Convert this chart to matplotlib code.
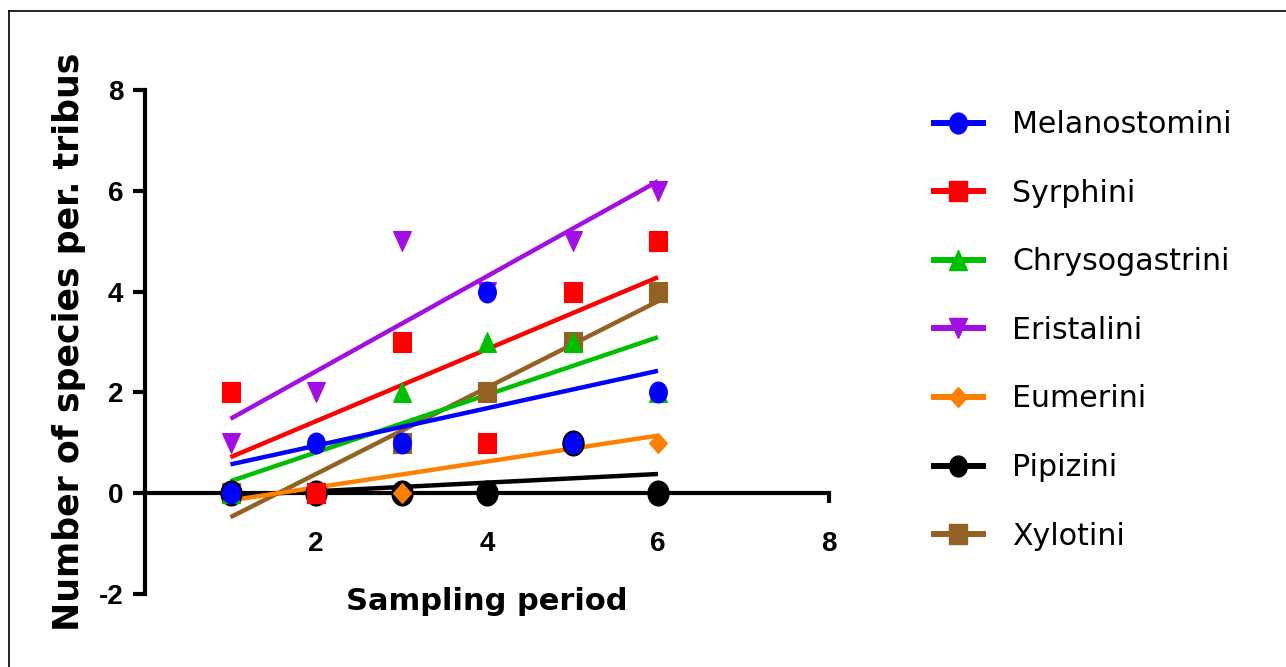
import numpy as np
import matplotlib
matplotlib.use("Agg")
import matplotlib.pyplot as plt
from matplotlib.lines import Line2D
from matplotlib.markers import MarkerStyle
from matplotlib.transforms import Affine2D

# sampling periods and species counts per tribus
periods = [1, 2, 3, 4, 5, 6]
melanostomini = [0, 1, 1, 4, 1, 2]
syrphini = [2, 0, 3, 1, 4, 5]
chrysogastrini = [0, 0, 2, 3, 3, 2]
eristalini = [1, 2, 5, 4, 5, 6]
eumerini = [0, 0, 0, 1, 1, 1]
pipizini = [0, 0, 0, 0, 1, 0]
xylotini = [0, 0, 1, 2, 3, 4]

tribus_names = ["Melanostomini", "Syrphini", "Chrysogastrini", "Eristalini",
                "Eumerini", "Pipizini", "Xylotini"]
tribus_values = [melanostomini, syrphini, chrysogastrini, eristalini,
                 eumerini, pipizini, xylotini]
colors = ["#0000FF", "#FF0000", "#00BE00", "#A30FE3", "#FF8000", "#000000", "#936121"]
markers = ["o", "s", "^", "v", "D", "o", "s"]
msizes = [15, 15, 15, 15, 10.5, 18, 15]

x_ticks = [2, 4, 6, 8]
y_ticks = [-2, 0, 2, 4, 6, 8]

tick_font = ["Liberation Sans Narrow", "Liberation Sans", "DejaVu Sans"]
plt.rcParams["axes.unicode_minus"] = False

fig = plt.figure(figsize=(12.86, 6.67), dpi=100)
ax = fig.add_axes([145 / 1286, 73 / 667, 684 / 1286, 504 / 667])

squash = Affine2D().scale(0.85, 1.0)
n = len(tribus_names)
for i, (name, vals, c, m, ms) in enumerate(zip(tribus_names, tribus_values, colors, markers, msizes)):
    x = np.array(periods, dtype=float)
    y = np.array(vals, dtype=float)
    # linear regression line over the sampled periods
    coef = np.polyfit(x, y, 1)
    xs = np.array([x[0], x[-1]])
    ax.plot(xs, np.polyval(coef, xs), color=c, lw=3.2, zorder=3 + (n - i) * 0.01,
            solid_capstyle="butt")
    ax.plot(x, y, ls="none", marker=MarkerStyle(m, transform=squash), ms=ms,
            mfc=c, mec=c, mew=0.8, zorder=4 + (n - i) * 0.01)

ax.set_xlim(0, 8)
ax.set_ylim(-2, 8)
ax.spines["top"].set_visible(False)
ax.spines["right"].set_visible(False)
ax.spines["bottom"].set_position(("data", 0))
for s in ["left", "bottom"]:
    ax.spines[s].set_linewidth(3)
    ax.spines[s].set_capstyle("projecting")

tick_kw = dict(fontsize=20, fontweight="bold", family=tick_font)
ax.set_xticks(x_ticks, labels=[str(t) for t in x_ticks], **tick_kw)
ax.set_yticks(y_ticks, labels=[str(t) for t in y_ticks], **tick_kw)
ax.tick_params(axis="x", direction="out", length=7, width=3, pad=20)
ax.tick_params(axis="y", direction="out", length=8.5, width=3, pad=7)

ax.set_xlabel("Sampling period", fontsize=22, fontweight="bold", family="DejaVu Sans")
ax.xaxis.label.set_va("top")
ax.xaxis.set_label_coords(0.5, (667 - 587 - 73) / 504)
ax.set_ylabel("Number of species per. tribus", fontsize=25, fontweight="bold",
              family="DejaVu Sans")
ax.yaxis.set_label_coords((69 - 145) / 684, 0.5)
ax.yaxis.label.set_va("center")

handles = [Line2D([], [], color=c, lw=4.3, marker=MarkerStyle(m, transform=squash),
                  ms=15 if m != "D" else 10.5, mfc=c, mec=c)
           for c, m in zip(colors, markers)]
fig.legend(handles, tribus_names, loc="upper left",
           bbox_to_anchor=(934 / 1286, 1 - 110 / 667), frameon=False,
           fontsize=21.6, handlelength=1.63, handletextpad=0.97,
           labelspacing=1.32, borderpad=0, borderaxespad=0)

# thin frame around the graph sheet (top and left edges visible)
fig.add_artist(Line2D([9 / 1286, 1.0], [1 - 11 / 667, 1 - 11 / 667],
                      transform=fig.transFigure, color="black", lw=1.2))
fig.add_artist(Line2D([9 / 1286, 9 / 1286], [0, 1 - 11 / 667],
                      transform=fig.transFigure, color="black", lw=1.2))

fig.savefig("out.png", dpi=100)
